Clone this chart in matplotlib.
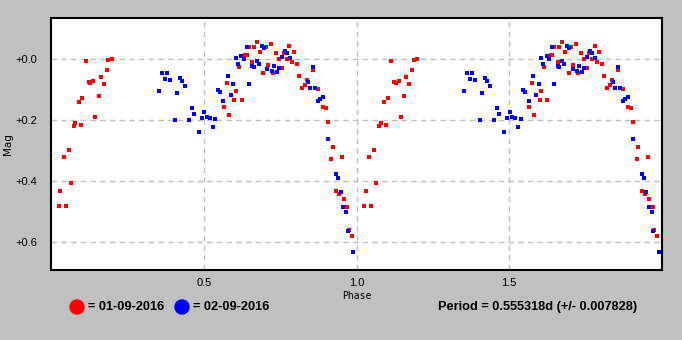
import matplotlib
matplotlib.use("Agg")
import matplotlib.pyplot as plt
from matplotlib.patches import Ellipse

# Phase-folded photometry, two nights
red_phase = [0.113, 0.188, 0.198, 0.182, 0.162, 0.123, 0.129, 0.139, 0.172, 0.156,
             0.103, 0.090, 0.145, 0.080, 0.074, 0.097, 0.058, 0.041, 0.064, 0.031,
             0.025, 0.048, 0.576, 0.605, 0.599, 0.625, 0.566, 0.582, 0.615, 0.635,
             0.641, 0.648, 0.664, 0.658, 0.674, 0.684, 0.694, 0.703, 0.710, 0.720,
             0.726, 0.736, 0.746, 0.756, 0.762, 0.772, 0.779, 0.788, 0.795, 0.805,
             0.811, 0.837, 0.831, 0.821, 0.857, 0.873, 0.890, 0.899, 0.906, 0.923,
             0.917, 0.953, 0.933, 0.943, 0.959, 0.969, 0.974, 0.985]
red_mag = [0.006, 0.002, -0.001, 0.035, 0.058, 0.074, 0.078, 0.071, 0.081, 0.120,
           0.127, 0.139, 0.189, 0.209, 0.219, 0.216, 0.298, 0.321, 0.406, 0.432,
           0.481, 0.481, 0.078, 0.104, 0.134, 0.134, 0.157, 0.183, 0.026, -0.014,
           -0.014, -0.040, -0.040, 0.009, -0.056, -0.024, 0.045, -0.040, 0.019, -0.050,
           0.045, -0.020, -0.001, 0.029, -0.020, -0.001, -0.043, 0.009, -0.024, 0.016,
           0.055, 0.068, 0.085, 0.094, 0.035, 0.098, 0.157, 0.160, 0.206, 0.288,
           0.327, 0.321, 0.432, 0.442, 0.458, 0.485, 0.560, 0.580]

blue_phase = [0.362, 0.379, 0.372, 0.389, 0.353, 0.421, 0.428, 0.438, 0.411, 0.461,
              0.467, 0.405, 0.451, 0.483, 0.502, 0.493, 0.509, 0.519, 0.537, 0.530,
              0.546, 0.579, 0.596, 0.553, 0.563, 0.589, 0.605, 0.612, 0.622, 0.631,
              0.641, 0.648, 0.658, 0.664, 0.674, 0.680, 0.690, 0.697, 0.707, 0.723,
              0.729, 0.739, 0.746, 0.756, 0.765, 0.772, 0.782, 0.841, 0.847, 0.864,
              0.857, 0.873, 0.880, 0.890, 0.906, 0.933, 0.940, 0.949, 0.956, 0.966,
              0.972, 0.989]
blue_mag = [0.044, 0.044, 0.064, 0.068, 0.104, 0.062, 0.071, 0.088, 0.111, 0.160,
            0.180, 0.199, 0.199, 0.239, 0.173, 0.193, 0.189, 0.193, 0.196, 0.222,
            0.100, 0.055, 0.081, 0.107, 0.137, 0.117, -0.004, 0.016, -0.011, -0.001,
            -0.040, 0.081, 0.022, 0.026, 0.006, 0.016, -0.043, -0.037, 0.032, 0.039,
            0.022, 0.042, 0.029, -0.007, -0.027, -0.020, -0.004, 0.075, 0.094, 0.094,
            0.026, 0.137, 0.130, 0.124, 0.261, 0.376, 0.389, 0.435, 0.485, 0.501,
            0.563, 0.632]

x_ticks = [0.5, 1.0, 1.5]
x_tick_labels = ["0.5", "1.0", "1.5"]
y_ticks = [0.0, 0.2, 0.4, 0.6]
y_tick_labels = ["+0.0", "+0.2", "+0.4", "+0.6"]
night_labels = ["= 01-09-2016", "= 02-09-2016"]
period_text = "Period = 0.555318d (+/- 0.007828)"

bg = "#c0c0c0"
W, H = 682, 340
fig = plt.figure(figsize=(W / 100, H / 100), dpi=100, facecolor=bg)
ax = fig.add_axes([0.0748, 0.206, 0.8959, 0.740])
ax.set_facecolor("white")

# Each night plotted over two cycles (phase and phase + 1)
for ph, mg, col in [(red_phase, red_mag, "#ff0000"), (blue_phase, blue_mag, "#0000ff")]:
    for shift in (0.0, 1.0):
        ax.scatter([p + shift for p in ph], mg, s=9, marker="s", color=col,
                   linewidths=0, zorder=3)

ax.set_xlim(0.0, 2.0)
ax.set_ylim(0.691, -0.134)
ax.set_xticks(x_ticks)
ax.set_xticklabels(x_tick_labels)
ax.set_yticks(y_ticks)
ax.set_yticklabels(y_tick_labels)
ax.tick_params(length=0, labelsize=8)
ax.tick_params(axis="y", pad=10)
ax.tick_params(axis="x", pad=6)
for lab in ax.get_xticklabels() + ax.get_yticklabels():
    lab.set_family("Liberation Sans")
ax.grid(True, color="#c0c0c0", linestyle=(0, (4, 3)), linewidth=1.0, zorder=0)
for sp in ax.spines.values():
    sp.set_linewidth(1.5)
    sp.set_color("black")

ax.set_xlabel("Phase", family="DejaVu Sans Mono", fontsize=7, labelpad=2)
ax.set_ylabel("Mag", family="DejaVu Sans", fontsize=7.5)
ax.yaxis.set_label_coords(-0.062, 0.5)

# Night legend and period annotation below the axes
ly = 1 - 307 / H
fig.patches.append(Ellipse((77 / W, ly), 14 / W, 14 / H, transform=fig.transFigure,
                           color="#ff0000"))
fig.patches.append(Ellipse((182 / W, ly), 14 / W, 14 / H, transform=fig.transFigure,
                           color="#0000ff"))
fnt = dict(family="Liberation Sans", fontweight="bold", fontsize=9.2)
fig.text(88 / W, ly, night_labels[0], va="center", ha="left", **fnt)
fig.text(193 / W, ly, night_labels[1], va="center", ha="left", **fnt)
fig.text(438 / W, ly, period_text, va="center", ha="left", **fnt)

fig.savefig("out.png", dpi=100, facecolor=bg)
